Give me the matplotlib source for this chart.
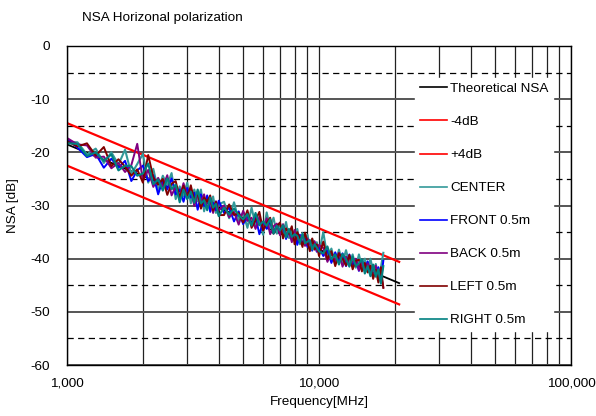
import matplotlib
matplotlib.use("Agg")
import matplotlib.pyplot as plt
from matplotlib.ticker import FixedLocator, FuncFormatter, NullFormatter

plt.rcParams['font.family'] = ['Liberation Sans', 'DejaVu Sans']
plt.rcParams['axes.unicode_minus'] = False

# measurement frequencies [MHz]
freq = ([1000, 1100, 1200, 1300, 1400, 1500, 1600, 1700, 1800, 1900, 2000,
         2100, 2200, 2300, 2400, 2500, 2600, 2700, 2800, 2900, 3000,
         3100, 3200, 3300, 3400, 3500, 3600, 3700, 3800, 3900, 4000]
        + [4200, 4400, 4600, 4800, 5000, 5200, 5400, 5600, 5800, 6000,
           6200, 6400, 6600, 6800, 7000, 7200, 7400, 7600, 7800, 8000,
           8200, 8400, 8600, 8800, 9000, 9200, 9400, 9600, 9800, 10000]
        + [10400, 10800, 11200, 11600, 12000, 12400, 12800, 13200, 13600, 14000,
           14400, 14800, 15200, 15600, 16000, 16400, 16800, 17200, 17600, 18000])

# theoretical NSA and +/-4 dB limits
theo_freq = [1000, 20800]
theo_nsa = [-18.5, -44.6]
lim_minus = [-22.5, -48.6]
lim_plus = [-14.5, -40.6]

center = ([-18.1, -18.1, -20.4, -19.3, -22.0, -20.0, -22.3, -19.5, -24.1, -22.2, -20.3,
           -25.7, -23.1, -27.2, -24.4, -26.2, -23.9, -28.8, -26.4, -28.3, -25.7,
           -29.6, -27.0, -29.2, -27.0, -31.1, -28.6, -30.7, -28.3, -31.4, -29.8]
          + [-29.3, -32.4, -29.4, -32.8, -31.3, -34.2, -30.4, -33.7, -32.8, -35.5,
             -31.3, -34.3, -32.3, -35.3, -33.3, -35.4, -33.1, -36.1, -34.6, -36.0,
             -34.4, -37.3, -35.2, -36.9, -35.5, -38.0, -36.3, -37.8, -36.9, -38.9]
          + [-35.0, -39.8, -38.1, -41.0, -38.3, -40.8, -38.4, -40.9, -39.2, -41.7,
             -39.2, -41.6, -40.0, -42.4, -40.0, -42.4, -41.0, -43.4, -41.7, -38.9])

front = ([-17.5, -19.1, -20.9, -20.3, -22.9, -21.2, -22.9, -21.6, -25.4, -23.4, -22.5,
          -25.4, -24.3, -27.9, -25.2, -27.0, -24.9, -27.9, -27.0, -29.3, -26.7,
          -28.5, -27.6, -30.8, -27.9, -30.1, -28.1, -31.2, -29.5, -30.9, -29.1]
         + [-31.4, -30.4, -33.0, -31.1, -33.5, -32.1, -33.4, -32.1, -35.4, -33.1,
            -34.4, -32.9, -35.2, -33.6, -35.0, -34.0, -36.3, -34.7, -36.1, -35.0,
            -37.4, -35.5, -37.2, -36.2, -37.8, -36.7, -38.5, -36.9, -38.7, -37.9]
         + [-39.5, -38.4, -40.8, -38.8, -40.6, -39.0, -41.4, -39.2, -41.3, -40.1,
            -42.3, -40.3, -42.1, -40.5, -42.9, -41.6, -42.7, -41.6, -44.4, -40.4])

back = ([-17.3, -18.5, -18.7, -21.0, -20.8, -23.0, -22.0, -23.7, -22.4, -18.4, -25.3,
         -23.3, -26.5, -24.8, -26.5, -24.3, -28.1, -26.4, -28.4, -25.8, -28.3,
         -27.0, -30.1, -28.0, -29.2, -27.9, -30.6, -29.0, -31.4, -29.2, -30.9]
        + [-30.0, -32.2, -31.2, -33.6, -31.0, -32.9, -32.3, -34.4, -32.1, -34.5,
           -32.4, -35.4, -33.9, -33.4, -35.6, -33.5, -35.4, -34.9, -36.9, -34.6,
           -36.4, -35.9, -35.6, -37.6, -36.2, -37.1, -38.0, -36.7, -38.6, -37.4]
        + [-38.0, -40.6, -38.9, -40.5, -38.9, -41.5, -39.6, -41.3, -40.5, -40.0,
           -42.2, -40.8, -42.4, -40.9, -42.1, -43.5, -41.3, -43.7, -42.7, -45.4])

left = ([-17.9, -18.9, -18.3, -20.6, -19.0, -22.6, -21.3, -22.7, -24.4, -23.2, -25.7,
         -20.5, -24.7, -26.1, -25.0, -28.0, -25.9, -25.4, -28.6, -26.3, -28.7,
         -26.2, -29.1, -27.5, -30.6, -28.5, -29.3, -28.1, -31.0, -29.3, -31.8]
        + [-31.8, -29.8, -31.8, -31.4, -33.2, -30.9, -34.2, -32.8, -31.2, -34.7,
           -33.3, -32.3, -35.3, -33.9, -33.2, -36.2, -34.3, -35.3, -33.9, -37.3,
           -35.0, -36.2, -37.8, -35.1, -37.0, -38.6, -36.2, -38.3, -37.3, -39.5]
        + [-36.8, -40.1, -38.6, -41.4, -39.0, -40.0, -41.3, -39.3, -42.0, -40.4,
           -40.2, -42.4, -40.8, -42.6, -41.3, -43.8, -42.1, -44.5, -41.6, -45.5])

right = ([-18.3, -18.4, -20.7, -20.0, -21.6, -20.4, -23.4, -22.5, -22.6, -24.4, -24.0,
          -22.1, -26.0, -25.1, -27.2, -24.9, -26.9, -26.1, -29.4, -27.0, -28.8,
          -27.4, -29.5, -27.0, -29.6, -29.0, -30.9, -28.5, -30.4, -29.7, -32.0]
         + [-30.4, -31.7, -30.6, -31.8, -32.6, -31.6, -33.8, -31.4, -33.7, -33.0,
            -33.8, -32.6, -35.3, -33.8, -34.7, -33.7, -36.0, -34.4, -35.9, -35.4,
            -35.7, -37.0, -35.4, -37.1, -36.8, -36.5, -38.3, -37.3, -37.9, -38.6]
         + [-39.0, -37.7, -40.1, -39.2, -41.1, -39.1, -40.1, -41.5, -39.6, -41.4,
            -40.9, -40.1, -42.8, -41.4, -43.3, -41.1, -43.4, -42.0, -44.7, -41.4])

fig = plt.figure(figsize=(5.96, 4.16), dpi=100)
ax = fig.add_axes([67 / 596, 51 / 416, 504 / 596, 319 / 416])

ax.plot(theo_freq, theo_nsa, color='black', lw=1.3, label='Theoretical NSA')
ax.plot(theo_freq, lim_minus, color='#ff0000', lw=1.6, label='-4dB')
ax.plot(theo_freq, lim_plus, color='#ff0000', lw=1.6, label='+4dB')
ax.plot(freq, center, color='#339999', lw=1.5, label='CENTER')
ax.plot(freq, front, color='#0000ff', lw=1.4, label='FRONT 0.5m')
ax.plot(freq, back, color='#800080', lw=1.4, label='BACK 0.5m')
ax.plot(freq, left, color='#800000', lw=1.4, label='LEFT 0.5m')
ax.plot(freq, right, color='#008080', lw=1.5, label='RIGHT 0.5m')

ax.set_xscale('log')
ax.set_xlim(1000, 100000)
ax.set_ylim(-60, 0)
ax.set_yticks(range(-60, 1, 10))
ax.yaxis.set_minor_locator(FixedLocator(range(-55, 0, 10)))
ax.xaxis.set_major_formatter(FuncFormatter(lambda v, p: '{:,.0f}'.format(v)))
ax.xaxis.set_minor_formatter(NullFormatter())
ax.tick_params(which='both', length=0, labelsize=9.7)
ax.tick_params(axis='y', pad=12)
ax.tick_params(axis='x', pad=9)

ax.set_axisbelow(True)
ax.grid(True, which='both', axis='x', color='#222222', lw=0.9)
ax.grid(True, which='major', axis='y', color='#555555', lw=1.4)
ax.grid(True, which='minor', axis='y', color='black', lw=0.9, linestyle=(0, (5, 3.5)))
for s in ax.spines.values():
    s.set_color('black')
    s.set_linewidth(1.0)

ax.set_xlabel('Frequency[MHz]', fontsize=9.7, labelpad=5)
ax.set_ylabel('NSA [dB]', fontsize=9.7)
ax.yaxis.set_label_coords((19 - 67) / 504, 0.5)
fig.text(82 / 596, 1 - 18 / 416, 'NSA Horizonal polarization', fontsize=9.7, va='center')

leg = ax.legend(loc='upper left', bbox_to_anchor=((415 - 67) / 504, (365 - 78) / 319),
                borderaxespad=0, fontsize=9.7, frameon=True, fancybox=False,
                facecolor='white', edgecolor='white', framealpha=1,
                handlelength=2.0, handletextpad=0.25, labelspacing=1.53,
                borderpad=0.35)
for h in leg.get_lines():
    h.set_linewidth(1.2)

fig.savefig('out.png', dpi=100)
